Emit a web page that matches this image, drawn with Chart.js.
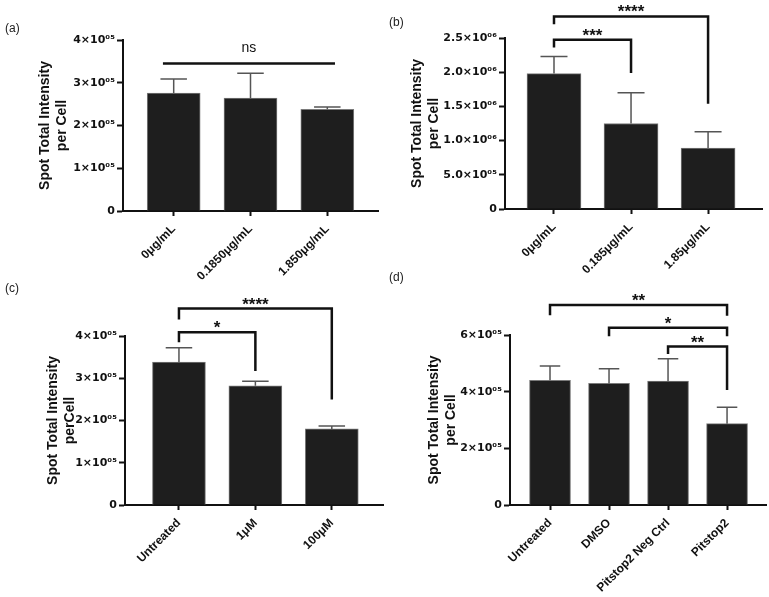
<!DOCTYPE html>
<html>
<head>
<meta charset="utf-8">
<script src="https://cdn.jsdelivr.net/npm/chart.js@4.4.0/dist/chart.umd.min.js"></script>
<style>
  body { margin: 0; background: #fff; }
  #fig { position: relative; width: 769px; height: 597px; overflow: hidden; }
  canvas { position: absolute; }
  .lbl { position: absolute; font: 12px "Liberation Sans", Arial, sans-serif; color: #222; }
</style>
</head>
<body>
<div id="fig">
  <canvas id="chartA" width="384" height="300" style="left:0;top:0"></canvas>
  <canvas id="chartB" width="385" height="300" style="left:384px;top:0"></canvas>
  <canvas id="chartC" width="384" height="322" style="left:0;top:275px"></canvas>
  <canvas id="chartD" width="385" height="322" style="left:384px;top:275px"></canvas>
  <div class="lbl" style="left:5px;top:21px">(a)</div>
  <div class="lbl" style="left:389px;top:15px">(b)</div>
  <div class="lbl" style="left:5px;top:281px">(c)</div>
  <div class="lbl" style="left:389px;top:270px">(d)</div>
</div>
<script>
// panel (a)
const catsA = ['0μg/mL', '0.1850μg/mL', '1.850μg/mL'];
const meanA = [2.76e5, 2.64e5, 2.38e5];
const errA = [0.33e5, 0.58e5, 0.05e5];
const ticksA = [0, 1e5, 2e5, 3e5, 4e5];
const tickLabelsA = ['0', '1×10⁰⁵', '2×10⁰⁵', '3×10⁰⁵', '4×10⁰⁵'];
const sigA = [{ from: -0.14, to: 2.1, y: 3.45e5, legA: 3.45e5, legB: 3.45e5, text: 'ns' }];

// panel (b)
const catsB = ['0μg/mL', '0.185μg/mL', '1.85μg/mL'];
const meanB = [1.98e6, 1.25e6, 0.89e6];
const errB = [0.25e6, 0.45e6, 0.24e6];
const ticksB = [0, 5e5, 1e6, 1.5e6, 2e6, 2.5e6];
const tickLabelsB = ['0', '5.0×10⁰⁵', '1.0×10⁰⁶', '1.5×10⁰⁶', '2.0×10⁰⁶', '2.5×10⁰⁶'];
const sigB = [
  { from: 0, to: 1, y: 2.475e6, legA: 2.36e6, legB: 1.99e6, text: '***' },
  { from: 0, to: 2, y: 2.815e6, legA: 2.70e6, legB: 1.54e6, text: '****' }
];

// panel (c)
const catsC = ['Untreated', '1μM', '100μM'];
const meanC = [3.38e5, 2.82e5, 1.80e5];
const errC = [0.34e5, 0.11e5, 0.07e5];
const ticksC = [0, 1e5, 2e5, 3e5, 4e5];
const tickLabelsC = ['0', '1×10⁰⁵', '2×10⁰⁵', '3×10⁰⁵', '4×10⁰⁵'];
const sigC = [
  { from: 0, to: 1, y: 4.09e5, legA: 3.85e5, legB: 3.17e5, text: '*' },
  { from: 0, to: 2, y: 4.65e5, legA: 4.39e5, legB: 2.50e5, text: '****' }
];

// panel (d)
const catsD = ['Untreated', 'DMSO', 'Pitstop2 Neg Ctrl', 'Pitstop2'];
const meanD = [4.40e5, 4.29e5, 4.37e5, 2.87e5];
const errD = [0.51e5, 0.52e5, 0.79e5, 0.58e5];
const ticksD = [0, 2e5, 4e5, 6e5];
const tickLabelsD = ['0', '2×10⁰⁵', '4×10⁰⁵', '6×10⁰⁵'];
const sigD = [
  { from: 0, to: 3, y: 7.06e5, legA: 6.70e5, legB: 6.68e5, text: '**' },
  { from: 1, to: 3, y: 6.26e5, legA: 5.96e5, legB: 5.96e5, text: '*' },
  { from: 2, to: 3, y: 5.59e5, legA: 5.33e5, legB: 4.06e5, text: '**' }
];

const FONT = '"Liberation Sans", Arial, sans-serif';
const INK = '#111';

// error bars + significance brackets, drawn through the chart's scales
function extras(o) {
  return {
    id: 'extras',
    afterDatasetsDraw(chart) {
      const ctx = chart.ctx, x = chart.scales.x, y = chart.scales.y;
      ctx.save();
      ctx.strokeStyle = '#555';
      ctx.lineWidth = 1.5;
      o.means.forEach((m, i) => {
        const px = x.getPixelForValue(i);
        const y0 = y.getPixelForValue(m), y1 = y.getPixelForValue(m + o.errs[i]);
        const half = o.barW / 4;
        ctx.beginPath();
        ctx.moveTo(px, y0); ctx.lineTo(px, y1);
        ctx.moveTo(px - half, y1); ctx.lineTo(px + half, y1);
        ctx.stroke();
      });
      ctx.strokeStyle = INK;
      ctx.fillStyle = INK;
      ctx.lineWidth = 2.5;
      ctx.textAlign = 'center';
      o.sig.forEach(s => {
        const xa = x.getPixelForValue(s.from), xb = x.getPixelForValue(s.to);
        const yy = y.getPixelForValue(s.y);
        ctx.beginPath();
        ctx.moveTo(xa, y.getPixelForValue(s.legA));
        ctx.lineTo(xa, yy);
        ctx.lineTo(xb, yy);
        ctx.lineTo(xb, y.getPixelForValue(s.legB));
        ctx.stroke();
        if (s.text === 'ns') {
          ctx.font = '14px ' + FONT;
          ctx.fillText(s.text, (xa + xb) / 2, yy - 12);
        } else {
          ctx.font = 'bold 17px ' + FONT;
          ctx.fillText(s.text, (xa + xb) / 2, yy + 1);
        }
      });
      ctx.restore();
    }
  };
}

function makeChart(id, o) {
  return new Chart(document.getElementById(id), {
    type: 'bar',
    data: {
      datasets: [{
        data: o.cats.map((c, i) => ({ x: i, y: o.means[i] })),
        backgroundColor: '#1e1e1e',
        borderColor: '#7a7a7a',
        borderWidth: 1,
        barThickness: o.barW
      }]
    },
    options: {
      responsive: false,
      animation: false,
      layout: { padding: o.pad },
      plugins: { legend: { display: false }, tooltip: { enabled: false } },
      scales: {
        x: {
          type: 'linear',
          min: o.xMin,
          max: o.xMax,
          offset: false,
          afterBuildTicks: s => { s.ticks = o.cats.map((c, i) => ({ value: i })); },
          afterFit: s => { s.height = o.xH; },
          ticks: {
            autoSkip: false, minRotation: 45, maxRotation: 45, padding: 6,
            color: INK, font: { family: FONT, size: 12, weight: 'bold' },
            callback: (v, i) => o.cats[i]
          },
          grid: { offset: false, drawOnChartArea: false, tickLength: 5, tickWidth: 2, tickColor: INK },
          border: { color: INK, width: 2 }
        },
        y: {
          min: 0,
          max: o.ticks[o.ticks.length - 1],
          afterBuildTicks: s => { s.ticks = o.ticks.map(v => ({ value: v })); },
          afterFit: s => { s.width = o.yW; },
          ticks: {
            padding: 2, color: INK, font: { family: '"DejaVu Sans", sans-serif', size: 11, weight: 'bold' },
            callback: (v, i) => o.tickLabels[i]
          },
          grid: { drawOnChartArea: false, tickLength: 6, tickWidth: 2, tickColor: INK },
          border: { color: INK, width: 2 },
          title: {
            display: true, text: ['Spot Total Intensity', o.unit],
            color: INK, font: { family: FONT, size: 14, weight: 'bold', lineHeight: 1.2 },
            padding: { top: o.titleX - 8.4, bottom: 0 }
          }
        }
      }
    },
    plugins: [extras(o)]
  });
}

makeChart('chartA', {
  cats: catsA, means: meanA, errs: errA, ticks: ticksA, tickLabels: tickLabelsA, sig: sigA,
  unit: 'per Cell', barW: 53, xMin: -0.66, xMax: 2.66, yW: 123, xH: 89, titleX: 45,
  pad: { left: 0, top: 40, right: 6, bottom: 0 }
});
makeChart('chartB', {
  cats: catsB, means: meanB, errs: errB, ticks: ticksB, tickLabels: tickLabelsB, sig: sigB,
  unit: 'per Cell', barW: 54, xMin: -0.636, xMax: 2.70, yW: 121, xH: 91, titleX: 33,
  pad: { left: 0, top: 38, right: 7, bottom: 0 }
});
makeChart('chartC', {
  cats: catsC, means: meanC, errs: errC, ticks: ticksC, tickLabels: tickLabelsC, sig: sigC,
  unit: 'perCell', barW: 53, xMin: -0.706, xMax: 2.67, yW: 125, xH: 92, titleX: 53,
  pad: { left: 0, top: 61, right: 1, bottom: 0 }
});
makeChart('chartD', {
  cats: catsD, means: meanD, errs: errD, ticks: ticksD, tickLabels: tickLabelsD, sig: sigD,
  unit: 'per Cell', barW: 41, xMin: -0.678, xMax: 3.66, yW: 126, xH: 92, titleX: 50,
  pad: { left: 0, top: 60, right: 3, bottom: 0 }
});
</script>
</body>
</html>
